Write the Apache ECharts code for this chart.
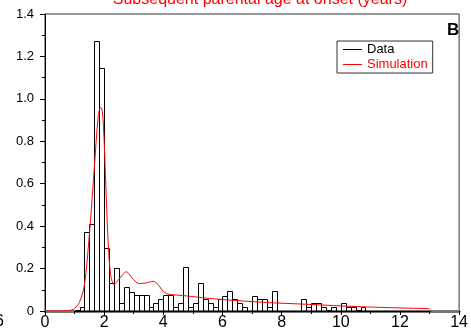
<!DOCTYPE html>
<html>
<head>
<meta charset="utf-8">
<script src="https://cdn.jsdelivr.net/npm/echarts@6/dist/echarts.min.js"></script>
<style>html,body{margin:0;padding:0;background:#fff}#c{width:471px;height:334px}</style>
</head>
<body>
<div id="c"></div>
<script>
// Histogram (observed data): bins of width 1/6 year starting at binStart
var binStart = 1.0;
var binWidth = 1 / 6;
var dataHeights = [
  0.005, 0.02, 0.374, 0.409, 1.275, 1.145,
  0.296, 0.13, 0.204, 0.039, 0.112, 0.091,
  0.074, 0.074, 0.074, 0.02, 0.039, 0.058,
  0.074, 0.074, 0.02, 0.039, 0.206, 0.02,
  0.039, 0.13, 0.055, 0.038, 0.02, 0.055,
  0.072, 0.093, 0.055, 0.038, 0.02, 0,
  0.072, 0.055, 0.055, 0.02, 0.093, 0,
  0, 0, 0, 0, 0.055, 0.02,
  0.04, 0.04, 0.02, 0.005, 0.02, 0,
  0.04, 0.02, 0.02, 0.005, 0.02, 0,
  0, 0, 0, 0, 0, 0,
  0, 0, 0, 0, 0, 0
];
// Simulation curve
var simX = [0, 0.5, 0.8, 1.0, 1.16, 1.33, 1.5, 1.66, 1.8, 1.88, 1.94, 2.0, 2.07, 2.14, 2.22, 2.33, 2.5, 2.75, 2.95, 3.16, 3.4, 3.66, 3.82, 4.0, 4.16, 4.8, 5.5, 6.5, 7.5, 8.8, 10.7, 13.0];
var simY = [0, 0, 0.002, 0.012, 0.04, 0.12, 0.36, 0.66, 0.92, 0.96, 0.94, 0.80, 0.54, 0.31, 0.17, 0.125, 0.15, 0.185, 0.155, 0.13, 0.132, 0.14, 0.125, 0.092, 0.08, 0.071, 0.06, 0.049, 0.04, 0.032, 0.02, 0.011];
var xTicks = [0, 2, 4, 6, 8, 10, 12, 14];
var yTicks = ['0', '0.2', '0.4', '0.6', '0.8', '1.0', '1.2', '1.4'];
var titleText = 'Subsequent parental age at onset (years)';
var legendNames = ['Data', 'Simulation'];

var histData = dataHeights.map(function (h, i) {
  var a = binStart + i * binWidth;
  return [a, a + binWidth, h];
});
var simData = simX.map(function (x, i) { return [x, simY[i]]; });

var font = 'Liberation Sans, Arial, sans-serif';
var chart = echarts.init(document.getElementById('c'));
chart.setOption({
  animation: false,
  backgroundColor: '#fff',
  textStyle: { fontFamily: font },
  title: {
    text: titleText,
    left: 255, textAlign: 'center', top: -13,
    textStyle: { color: '#ff0000', fontSize: 16, fontWeight: 'normal', fontFamily: font }
  },
  grid: { left: 45, right: 6, top: 14, bottom: 23, show: true, borderColor: '#333', borderWidth: 1, backgroundColor: 'transparent' },
  legend: {
    orient: 'vertical', left: 337, top: 41,
    padding: [2, 5, 2, 6],
    borderColor: '#333', borderWidth: 1,
    itemWidth: 19, itemHeight: 1, itemGap: 2,
    textStyle: { fontSize: 13, fontFamily: font },
    data: [
      { name: legendNames[0], icon: 'rect', itemStyle: { color: '#000' }, textStyle: { color: '#000' } },
      { name: legendNames[1], icon: 'rect', itemStyle: { color: '#ff0000' }, textStyle: { color: '#ff0000' } }
    ]
  },
  xAxis: {
    type: 'value', min: 0, max: 14, interval: 2,
    axisLine: { show: true, onZero: false, lineStyle: { color: '#777', width: 3 } },
    axisTick: { show: true, length: 4, lineStyle: { color: '#000' } },
    minorTick: { show: true, splitNumber: 2, length: 3, lineStyle: { color: '#000' } },
    splitLine: { show: false },
    axisLabel: { fontSize: 16, color: '#000', margin: 4, fontFamily: font,
      formatter: function (v) { return xTicks.indexOf(v) >= 0 ? String(v) : ''; } }
  },
  yAxis: {
    type: 'value', min: 0, max: 1.4, interval: 0.2,
    axisLine: { show: true, lineStyle: { color: '#000', width: 1 } },
    axisTick: { show: true, length: 5, lineStyle: { color: '#000' } },
    minorTick: { show: true, splitNumber: 2, length: 3, lineStyle: { color: '#000' } },
    splitLine: { show: false },
    axisLabel: { fontSize: 13, color: '#000', margin: 11, fontFamily: font,
      formatter: function (v) { return yTicks[Math.round(v / 0.2)]; } }
  },
  series: [
    {
      name: legendNames[0], type: 'custom', data: histData,
      itemStyle: { color: '#000' },
      renderItem: function (params, api) {
        var p0 = api.coord([api.value(0), api.value(2)]);
        var p1 = api.coord([api.value(1), 0]);
        return {
          type: 'rect',
          shape: { x: Math.round(p0[0]) + 0.5, y: Math.round(p0[1]) + 0.5, width: Math.round(p1[0]) - Math.round(p0[0]), height: Math.round(p1[1]) - Math.round(p0[1]) },
          style: { fill: 'none', stroke: '#000', lineWidth: 1 }
        };
      },
      z: 2
    },
    {
      name: legendNames[1], type: 'line', data: simData, smooth: 0.3,
      showSymbol: false, lineStyle: { color: '#ff0000', width: 1 }, itemStyle: { color: '#ff0000' }, z: 3
    }
  ],
  graphic: [
    { type: 'text', left: 447, top: 22, style: { text: 'B', fill: '#000', font: 'bold 17px Liberation Sans, Arial, sans-serif' } },
    { type: 'text', left: -5, top: 314, style: { text: '6', fill: '#000', font: '16px Liberation Sans, Arial, sans-serif' } }
  ]
});
</script>
</body>
</html>
